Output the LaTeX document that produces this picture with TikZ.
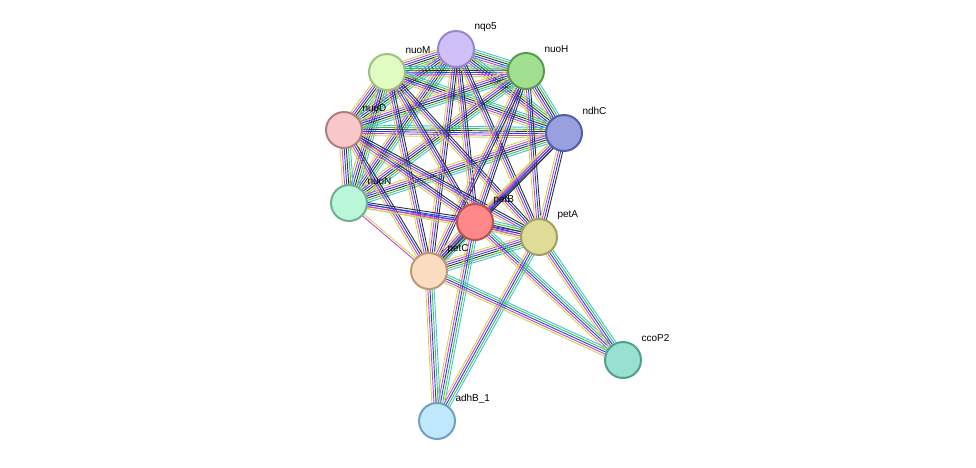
\documentclass[tikz,border=0pt]{standalone}
\usepackage{fontspec}
\setmainfont{Liberation Sans}
\usetikzlibrary{calc,backgrounds}
\definecolor{cY}{HTML}{C8D850}\definecolor{cM}{HTML}{D040D0}\definecolor{cB}{HTML}{2040E0}
\definecolor{cK}{HTML}{303030}\definecolor{cG}{HTML}{40C040}\definecolor{cC}{HTML}{40C0E0}
\definecolor{f1}{HTML}{D0C0F8}\definecolor{d1}{HTML}{9D85CC}
\definecolor{f2}{HTML}{E0FCC0}\definecolor{d2}{HTML}{A0C080}
\definecolor{f3}{HTML}{A0E090}\definecolor{d3}{HTML}{5A9A50}
\definecolor{f4}{HTML}{F8C8C8}\definecolor{d4}{HTML}{B08080}
\definecolor{f5}{HTML}{98A0E0}\definecolor{d5}{HTML}{5060A8}
\definecolor{f6}{HTML}{B8F8D8}\definecolor{d6}{HTML}{70B090}
\definecolor{f7}{HTML}{FF8888}\definecolor{d7}{HTML}{C05050}
\definecolor{f8}{HTML}{E0DC98}\definecolor{d8}{HTML}{A0A060}
\definecolor{f9}{HTML}{FCDCC0}\definecolor{d9}{HTML}{C09870}
\definecolor{fa}{HTML}{98E0D0}\definecolor{da}{HTML}{50A090}
\definecolor{fb}{HTML}{C0E8FC}\definecolor{db}{HTML}{70A0C0}
\newcommand\lk[4]{\foreach \cc [count=\i] in {#4}{\pgfmathsetmacro\oo{(\i-(#3+1)/2)*2.1}
 \draw[line width=0.9pt,\cc] ($(#1.center)!\oo pt!90:(#2.center)$) -- ($(#2.center)!\oo pt!-90:(#1.center)$);}}
\tikzset{pn/.style={circle,minimum size=36pt,inner sep=0pt,line width=2pt},
 lb/.style={font=\fontsize{10}{11}\selectfont,anchor=west}}
\newcommand\pnode[5]{\node[pn,fill=#4,draw=#5] (#1) at #2 {}; \node[lb] (l#1) at ($#2+(15,-22)$) {#3};}
\begin{document}
\begin{tikzpicture}[x=1pt,y=-1pt]
\useasboundingbox (0,0) rectangle (976,467);
\pnode{nqo5}{(456,49)}{nqo5}{f1}{d1}
\pnode{nuoM}{(387,72)}{nuoM}{f2}{d2}
\pnode{nuoH}{(526,71)}{nuoH}{f3}{d3}
\pnode{nuoD}{(344,130)}{nuoD}{f4}{d4}
\pnode{ndhC}{(564,133)}{ndhC}{f5}{d5}
\pnode{nuoN}{(349,203)}{nuoN}{f6}{d6}
\pnode{petB}{(475,222)}{petB}{f7}{d7}
\pnode{petA}{(539,237)}{petA}{f8}{d8}
\pnode{petC}{(429,271)}{petC}{f9}{d9}
\pnode{ccoP2}{(623,360)}{ccoP2}{fa}{da}
\pnode{adhB}{(437,421)}{adhB\_1}{fb}{db}
\begin{pgfonlayer}{background}
\foreach \a/\b in {nqo5/nuoM,nqo5/nuoH,nqo5/nuoD,nqo5/ndhC,nqo5/nuoN,nuoM/nuoH,nuoM/nuoD,nuoM/ndhC,nuoM/nuoN,
 nuoH/nuoD,nuoH/ndhC,nuoH/nuoN,nuoD/ndhC,nuoD/nuoN,ndhC/nuoN}{\lk{\a}{\b}{6}{cY,cM,cB,cK,cG,cC}}
\foreach \a in {nqo5,nuoM,nuoH,nuoD,ndhC}{\lk{\a}{petB}{4}{cY,cM,cB,cK}\lk{\a}{petA}{4}{cY,cM,cB,cK}\lk{\a}{petC}{4}{cY,cM,cB,cK}}
\lk{nuoN}{petB}{4}{cY,cM,cB,cK}\lk{nuoN}{petA}{3}{cY,cM,cB}\lk{nuoN}{petC}{2}{cM,cY}
\lk{petB}{petA}{6}{cY,cM,cB,cK,cG,cC}\lk{petB}{petC}{6}{cY,cM,cB,cK,cG,cC}\lk{petA}{petC}{6}{cY,cM,cB,cK,cG,cC}
\foreach \a in {petB,petA,petC}{\lk{\a}{ccoP2}{5}{cY,cM,cB,cG,cC}\lk{\a}{adhB}{5}{cY,cM,cB,cG,cC}}
\end{pgfonlayer}
\end{tikzpicture}
\end{document}
